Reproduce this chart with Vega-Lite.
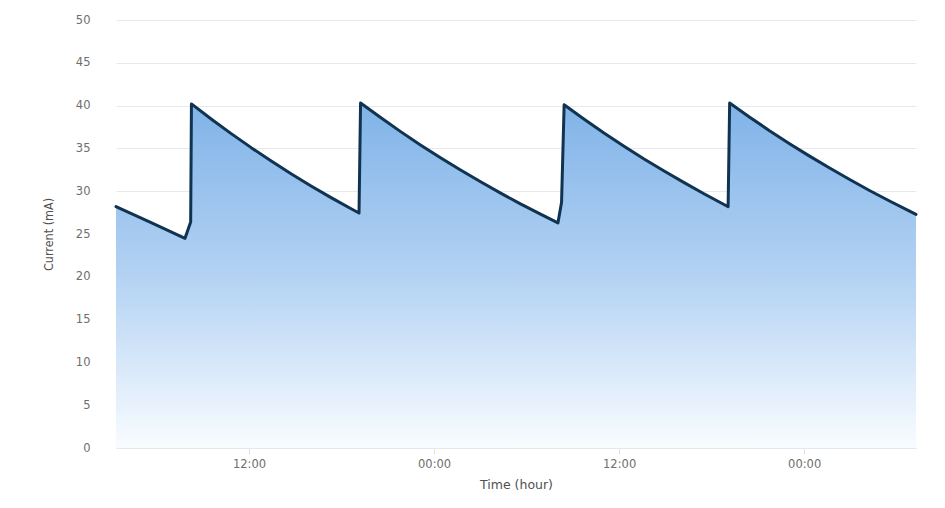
{
  "$schema": "https://vega.github.io/schema/vega-lite/v6.json",
  "width": 800,
  "height": 428,
  "autosize": {"type": "none"},
  "padding": {"left": 116, "top": 20, "right": 29, "bottom": 60},
  "background": "#ffffff",
  "config": {
    "view": {"stroke": null},
    "font": "DejaVu Sans"
  },
  "data": {
    "values": [
      {"time": "2020-01-01T03:22:30Z", "current": 28.2},
      {"time": "2020-01-01T05:35:00Z", "current": 26.4},
      {"time": "2020-01-01T07:51:00Z", "current": 24.5},
      {"time": "2020-01-01T08:13:00Z", "current": 26.4},
      {"time": "2020-01-01T08:16:00Z", "current": 40.2},
      {"time": "2020-01-01T09:34:00Z", "current": 38.41},
      {"time": "2020-01-01T10:52:00Z", "current": 36.7},
      {"time": "2020-01-01T12:10:00Z", "current": 35.06},
      {"time": "2020-01-01T13:28:00Z", "current": 33.5},
      {"time": "2020-01-01T14:45:00Z", "current": 32.01},
      {"time": "2020-01-01T16:03:00Z", "current": 30.58},
      {"time": "2020-01-01T17:21:00Z", "current": 29.22},
      {"time": "2020-01-01T18:39:00Z", "current": 27.92},
      {"time": "2020-01-01T19:08:00Z", "current": 27.45},
      {"time": "2020-01-01T19:14:00Z", "current": 40.3},
      {"time": "2020-01-01T20:32:00Z", "current": 38.6},
      {"time": "2020-01-01T21:50:00Z", "current": 36.96},
      {"time": "2020-01-01T23:07:00Z", "current": 35.4},
      {"time": "2020-01-02T00:25:00Z", "current": 33.9},
      {"time": "2020-01-02T01:43:00Z", "current": 32.47},
      {"time": "2020-01-02T03:01:00Z", "current": 31.1},
      {"time": "2020-01-02T04:19:00Z", "current": 29.78},
      {"time": "2020-01-02T05:36:00Z", "current": 28.52},
      {"time": "2020-01-02T06:54:00Z", "current": 27.32},
      {"time": "2020-01-02T08:02:00Z", "current": 26.3},
      {"time": "2020-01-02T08:16:00Z", "current": 28.7},
      {"time": "2020-01-02T08:26:00Z", "current": 40.1},
      {"time": "2020-01-02T09:44:00Z", "current": 38.41},
      {"time": "2020-01-02T11:01:00Z", "current": 36.8},
      {"time": "2020-01-02T12:19:00Z", "current": 35.26},
      {"time": "2020-01-02T13:37:00Z", "current": 33.77},
      {"time": "2020-01-02T14:55:00Z", "current": 32.36},
      {"time": "2020-01-02T16:13:00Z", "current": 31.0},
      {"time": "2020-01-02T17:30:00Z", "current": 29.7},
      {"time": "2020-01-02T18:48:00Z", "current": 28.45},
      {"time": "2020-01-02T19:04:00Z", "current": 28.2},
      {"time": "2020-01-02T19:10:00Z", "current": 40.3},
      {"time": "2020-01-02T20:28:00Z", "current": 38.65},
      {"time": "2020-01-02T21:45:00Z", "current": 37.07},
      {"time": "2020-01-02T23:03:00Z", "current": 35.55},
      {"time": "2020-01-03T00:21:00Z", "current": 34.1},
      {"time": "2020-01-03T01:39:00Z", "current": 32.71},
      {"time": "2020-01-03T02:57:00Z", "current": 31.37},
      {"time": "2020-01-03T04:14:00Z", "current": 30.08},
      {"time": "2020-01-03T05:32:00Z", "current": 28.85},
      {"time": "2020-01-03T06:50:00Z", "current": 27.67},
      {"time": "2020-01-03T07:15:00Z", "current": 27.3}
    ]
  },
  "encoding": {
    "x": {
      "field": "time",
      "type": "temporal",
      "scale": {
        "type": "utc",
        "domain": [
          {"year": 2020, "month": 1, "date": 1, "hours": 3, "minutes": 22, "seconds": 30, "utc": true},
          {"year": 2020, "month": 1, "date": 3, "hours": 7, "minutes": 15, "utc": true}
        ]
      },
      "axis": {
        "title": "Time (hour)",
        "format": "%H:%M",
        "values": [
          {"year": 2020, "month": 1, "date": 1, "hours": 12, "utc": true},
          {"year": 2020, "month": 1, "date": 2, "hours": 0, "utc": true},
          {"year": 2020, "month": 1, "date": 2, "hours": 12, "utc": true},
          {"year": 2020, "month": 1, "date": 3, "hours": 0, "utc": true}
        ],
        "grid": false,
        "domain": true,
        "domainColor": "#e4e8ee",
        "domainWidth": 1,
        "ticks": true,
        "tickColor": "#dde2e8",
        "tickSize": 6,
        "labelColor": "#6e6e6e",
        "labelFontSize": 11.5,
        "labelPadding": 4,
        "labelFont": "DejaVu Sans",
        "titleColor": "#505050",
        "titleFontSize": 12.5,
        "titleFontWeight": "normal",
        "titleFont": "DejaVu Sans",
        "titlePadding": 9
      }
    },
    "y": {
      "field": "current",
      "type": "quantitative",
      "scale": {"domain": [0, 50], "nice": false, "zero": true},
      "axis": {
        "title": "Current (mA)",
        "values": [0, 5, 10, 15, 20, 25, 30, 35, 40, 45, 50],
        "grid": true,
        "gridColor": "#e6eaef",
        "gridWidth": 1,
        "domain": false,
        "ticks": false,
        "labelColor": "#6e6e6e",
        "labelFontSize": 11.5,
        "labelPadding": 26,
        "labelFont": "DejaVu Sans",
        "titleColor": "#505050",
        "titleFontSize": 12.5,
        "titleFontWeight": "normal",
        "titleFont": "DejaVu Sans Condensed",
        "titlePadding": 20
      }
    }
  },
  "layer": [
    {
      "mark": {
        "type": "area",
        "interpolate": "linear",
        "line": false,
        "color": {
          "gradient": "linear",
          "x1": 0, "y1": 0, "x2": 0, "y2": 1,
          "stops": [
            {"offset": 0, "color": "#80b3e8"},
            {"offset": 0.5, "color": "#b3d2f3"},
            {"offset": 1, "color": "#f9fcff"}
          ]
        }
      }
    },
    {
      "mark": {
        "type": "line",
        "interpolate": "linear",
        "color": "#0f3350",
        "strokeWidth": 3,
        "strokeJoin": "round",
        "strokeCap": "round"
      }
    }
  ]
}
